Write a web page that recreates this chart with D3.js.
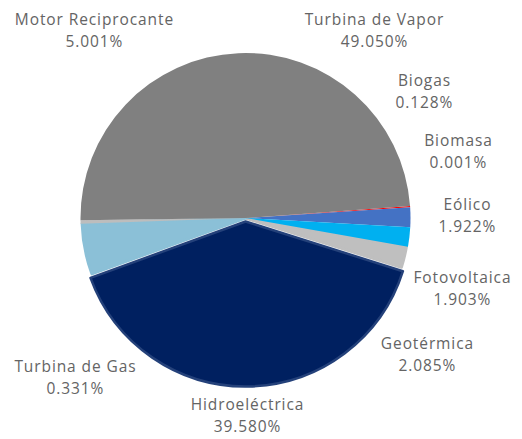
<!DOCTYPE html>
<html><head><meta charset="utf-8">
<script src="https://cdn.jsdelivr.net/npm/d3@7"></script>
<style>body{margin:0;background:#fff}text{font-family:"Open Sans",sans-serif}</style>
</head><body><svg id="c" width="522" height="439"></svg>
<script>
const categories = ["Biogas","Biomasa","Eólico","Fotovoltaica","Geotérmica","Hidroeléctrica","Motor Reciprocante","Turbina de Gas","Turbina de Vapor"];
const values = [0.128,0.001,1.922,1.903,2.085,39.580,5.001,0.331,49.050];
const valueLabels = ["0.128%","0.001%","1.922%","1.903%","2.085%","39.580%","5.001%","0.331%","49.050%"];
const colors = ["#ff0000","#ffc000","#4472c4","#00b0f0","#bfbfbf","#002060","#8bc0d7","#bdbdbd","#808080"];
// label anchor positions (centre x, first baseline y)
const labelPos = [[424,86],[458,146],[467,210],[462,283],[427,349],[247,410],[94,25],[75,372],[374,25]];

const svg = d3.select("#c");
const cx = 245.5, cy = 218, r = 165;
const a0 = 85.8*Math.PI/180;
const pie = d3.pie().sort(null).value(d=>d).startAngle(a0).endAngle(a0+2*Math.PI);
const arcs = pie(values);
const explodeIdx = 5;           // Hidroeléctrica slightly pulled out
const neighbours = [4,6];       // slices that fill the gap left by the exploded slice
const arcFull = d3.arc().innerRadius(0).outerRadius(r);
const arcInset = d3.arc().innerRadius(0).outerRadius(r-1.5);
const order = i => i===explodeIdx ? 3 : (neighbours.includes(i) ? 0 : 1);
const g = svg.append("g").attr("transform",`translate(${cx},${cy})`);
g.selectAll("path").data(arcs).join("path")
  .attr("d",(d,i)=>neighbours.includes(i)?arcInset(d):arcFull(d))
  .attr("fill",(d,i)=>colors[i])
  .attr("stroke",(d,i)=>i===explodeIdx?"#24417a":(neighbours.includes(i)?colors[i]:"none"))
  .attr("stroke-width",(d,i)=>i===explodeIdx?2.5:(neighbours.includes(i)?3:0))
  .attr("stroke-linejoin","round")
  .attr("transform",(d,i)=>{
    if(i!==explodeIdx) return null;
    const m=(d.startAngle+d.endAngle)/2, o=3.5;
    return `translate(${o*Math.sin(m)},${-o*Math.cos(m)})`;
  })
  .sort((a,b)=>order(a.index)-order(b.index));

const lab = svg.append("g").attr("fill","#646464").attr("font-size","15.5px").attr("letter-spacing","0.9px").attr("text-anchor","middle");
categories.forEach((c,i)=>{
  const t = lab.append("text").attr("x",labelPos[i][0]+0.45).attr("y",labelPos[i][1]);
  t.append("tspan").attr("x",labelPos[i][0]+0.45).text(c);
  t.append("tspan").attr("x",labelPos[i][0]+0.45).attr("dy",21.5).text(valueLabels[i]);
});
</script></body></html>
